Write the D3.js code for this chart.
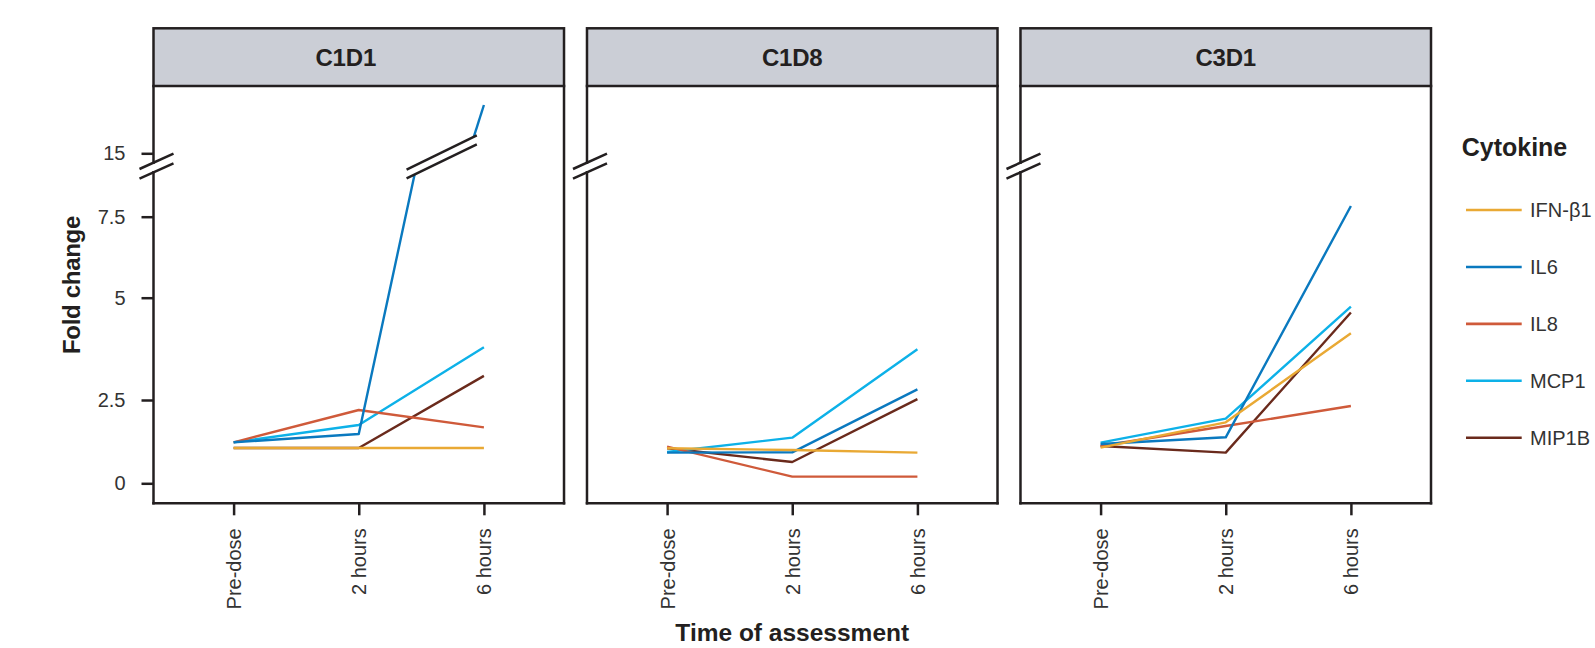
<!DOCTYPE html>
<html><head><meta charset="utf-8">
<script src="https://cdn.jsdelivr.net/npm/d3@7"></script>
<style>body{margin:0;background:#fff} svg{display:block}</style>
</head><body><svg id="c" width="1595" height="648"></svg>
<script>
// ---------- data ----------
const cycles = ["C1D1", "C1D8", "C3D1"];
const timepoints = ["Pre-dose", "2 hours", "6 hours"];
const cytokines = ["IFN-β1", "IL6", "IL8", "MCP1", "MIP1B"];
const cytokineColors = ["#e9a934", "#0a79bf", "#cf5a3a", "#0db1e8", "#6a2a1c"];
// fold change per cytokine (rows follow `cytokines`), columns follow `timepoints`
const valuesC1D1 = [[1.06, 1.06, 1.06], [1.23, 1.48, 25], [1.23, 2.2, 1.68], [1.23, 1.75, 3.79], [1.06, 1.06, 3.09]];
const valuesC1D8 = [[1.05, 1.0, 0.92], [0.92, 0.93, 2.76], [1.1, 0.2, 0.2], [0.94, 1.37, 3.74], [1.05, 0.64, 2.52]];
const valuesC3D1 = [[1.07, 1.83, 4.13], [1.18, 1.38, 7.83], [1.12, 1.72, 2.32], [1.22, 1.94, 4.78], [1.12, 0.92, 4.64]];
const yTicksLower = [0, 2.5, 5, 7.5];
const yTicksUpper = [15];
// where a line crossing the axis break is cut: value reached below / above the break
const breakCutValues = [8.8, 18.4];
const breakCutFractions = [0.446, 0.919];

const valuesByCycle = { C1D1: valuesC1D1, C1D8: valuesC1D8, C3D1: valuesC3D1 };

// ---------- layout ----------
const svg = d3.select("#c");
const stripTop = 28.3, plotTop = 86, plotBottom = 503.3;
const axisBreakTop = 162.7, axisBreakBottom = 172.3;
const stripLabelShift = { C1D1: -13, C1D8: 0, C3D1: 0 };
const ink = "#231f20";
const font = "'Helvetica Neue', Helvetica, 'Liberation Sans', Arial, sans-serif";

const panelX = d3.scaleBand().domain(cycles).range([153.5, 1431]).paddingInner(0.053).paddingOuter(0);
const w = panelX.bandwidth();
const x = d3.scalePoint().domain(timepoints).range([0, w]).padding(0.64);
const yLow = d3.scaleLinear().domain([0, 2.5, 5, 7.5, 9]).range([483.3, 400, 297.7, 216.7, 168.1]);
const yHigh = d3.scaleLinear().domain([15, 25]).range([153.3, 105]);
const upperStart = yTicksUpper[0];
const y = v => v >= upperStart ? yHigh(v) : yLow(v);
const color = d3.scaleOrdinal().domain(cytokines).range(cytokineColors);
const line = d3.line();

cycles.forEach((cyc, ci) => {
  const g = svg.append("g").attr("transform", `translate(${panelX(cyc)},0)`);
  const vals = valuesByCycle[cyc];

  // lines (drawn last cytokine first, so IFN-β1 sits on top)
  const order = d3.range(cytokines.length).reverse();
  order.forEach(k => {
    const v = vals[k];
    let seg = [[x(timepoints[0]), y(v[0])]];
    const segments = [];
    const breaks = [];
    for (let i = 1; i < v.length; i++) {
      const x0 = x(timepoints[i - 1]), x1 = x(timepoints[i]);
      if (v[i - 1] < upperStart && v[i] >= upperStart) {
        const lo = [x0 + breakCutFractions[0] * (x1 - x0), yLow(breakCutValues[0])];
        const hi = [x0 + breakCutFractions[1] * (x1 - x0), yHigh(breakCutValues[1])];
        seg.push(lo); segments.push(seg);
        seg = [hi, [x1, y(v[i])]];
        breaks.push([lo, hi]);
      } else {
        seg.push([x1, y(v[i])]);
      }
    }
    segments.push(seg);
    segments.forEach(s => g.append("path").attr("d", line(s)).attr("fill", "none")
      .attr("stroke", color(cytokines[k])).attr("stroke-width", 2.4).attr("stroke-linejoin", "round"));
    breaks.forEach(([lo, hi]) => {
      const slope = -0.487, xa = lo[0] - 8, xb = hi[0] + 3;
      [lo, hi].forEach(p => {
        g.append("line").attr("x1", xa).attr("y1", p[1] + (xa - p[0]) * slope)
          .attr("x2", xb).attr("y2", p[1] + (xb - p[0]) * slope)
          .attr("stroke", ink).attr("stroke-width", 2.5);
      });
    });
  });

  // frame
  const fr = g.append("g").attr("stroke", ink).attr("stroke-width", 2.5).attr("stroke-linecap", "square");
  fr.append("line").attr("x1", 0).attr("y1", plotTop).attr("x2", 0).attr("y2", axisBreakTop);
  fr.append("line").attr("x1", 0).attr("y1", axisBreakBottom).attr("x2", 0).attr("y2", plotBottom);
  fr.append("line").attr("x1", 0).attr("y1", plotBottom).attr("x2", w).attr("y2", plotBottom);
  fr.append("line").attr("x1", w).attr("y1", plotTop).attr("x2", w).attr("y2", plotBottom);
  // axis break marks
  [axisBreakTop, axisBreakBottom].forEach(by => {
    g.append("line").attr("x1", -14).attr("y1", by + 14 * 0.45).attr("x2", 20).attr("y2", by - 20 * 0.45)
      .attr("stroke", ink).attr("stroke-width", 2.5);
  });
  // strip
  g.append("rect").attr("x", 0).attr("y", stripTop).attr("width", w).attr("height", plotTop - stripTop)
    .attr("fill", "#cbced6").attr("stroke", ink).attr("stroke-width", 2.5);
  g.append("text").attr("x", w / 2 + stripLabelShift[cyc]).attr("y", (stripTop + plotTop) / 2).attr("dy", "0.36em")
    .attr("text-anchor", "middle").attr("font-family", font).attr("font-weight", "bold")
    .attr("font-size", 24).attr("letter-spacing", -0.2).attr("fill", "#231f20").text(cyc);

  // x axis
  const xa = g.append("g").attr("transform", `translate(0,${plotBottom})`)
    .call(d3.axisBottom(x).tickSize(12).tickPadding(0));
  xa.select(".domain").remove();
  xa.selectAll(".tick line").attr("stroke", ink).attr("stroke-width", 2.5);
  xa.selectAll(".tick text").attr("transform", "translate(0,25) rotate(-90)")
    .attr("text-anchor", "end").attr("x", 0).attr("y", 0).attr("dy", "0.35em")
    .attr("font-family", font).attr("font-size", 20).attr("fill", "#333");

  // y axis only on first panel
  if (ci === 0) {
    [[yLow, yTicksLower], [yHigh, yTicksUpper]].forEach(([sc, tv]) => {
      const ya = g.append("g").call(d3.axisLeft(sc).tickValues(tv).tickSize(12).tickPadding(16).tickFormat(d => String(d)));
      ya.select(".domain").remove();
      ya.selectAll(".tick line").attr("stroke", ink).attr("stroke-width", 2.5);
      ya.selectAll(".tick text").attr("font-family", font).attr("font-size", 20).attr("fill", "#333");
    });
  }
});

// axis titles
svg.append("text").attr("transform", "translate(71.7,285) rotate(-90)").attr("dy", "0.36em")
  .attr("text-anchor", "middle").attr("font-family", font).attr("font-weight", "bold").attr("font-size", 24)
  .attr("letter-spacing", -0.3).attr("fill", "#231f20").text("Fold change");
svg.append("text").attr("x", panelX("C1D8") + w / 2).attr("y", 641)
  .attr("text-anchor", "middle").attr("font-family", font).attr("font-weight", "bold").attr("font-size", 24.5)
  .attr("fill", "#231f20").text("Time of assessment");

// legend
const legY = d3.scalePoint().domain(cytokines).range([210, 437.7]);
svg.append("text").attr("x", 1461.7).attr("y", 146.7).attr("dy", "0.36em")
  .attr("font-family", font).attr("font-weight", "bold").attr("font-size", 25)
  .attr("fill", "#231f20").text("Cytokine");
cytokines.forEach(c => {
  svg.append("line").attr("x1", 1466).attr("x2", 1521.7).attr("y1", legY(c)).attr("y2", legY(c))
    .attr("stroke", color(c)).attr("stroke-width", 2.6);
  svg.append("text").attr("x", 1530).attr("y", legY(c)).attr("dy", "0.36em")
    .attr("font-family", font).attr("font-size", 20).attr("fill", "#333").text(c);
});
</script></body></html>
